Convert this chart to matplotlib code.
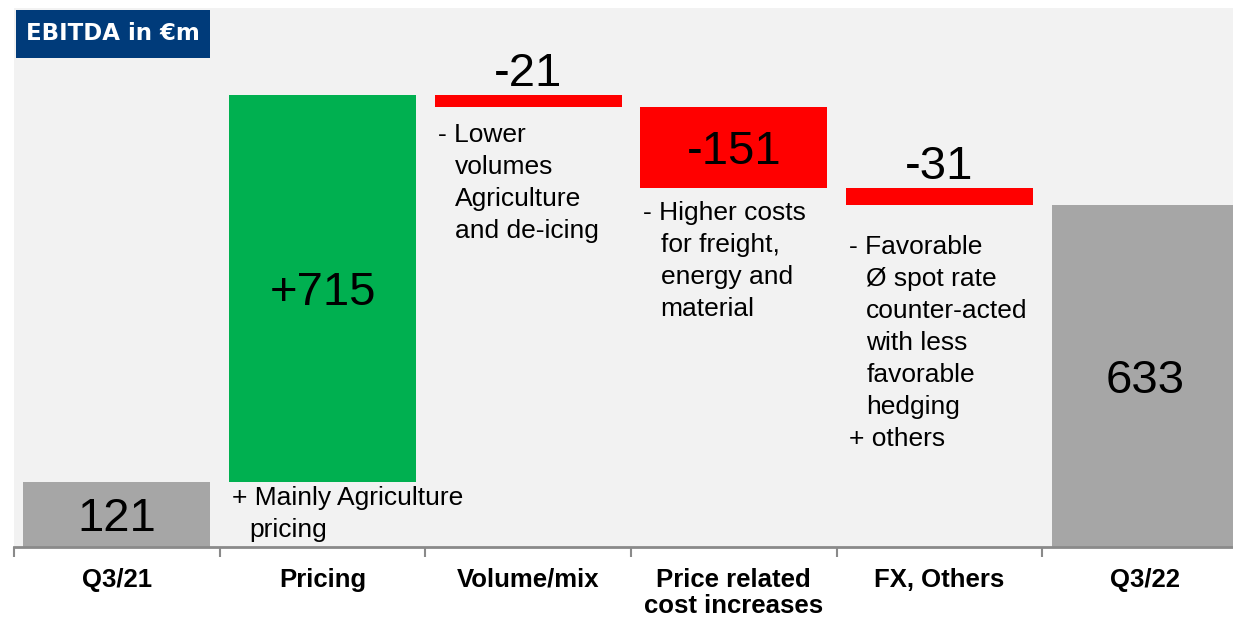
import matplotlib
matplotlib.use("Agg")
import matplotlib.pyplot as plt
from matplotlib.patches import Rectangle

# ---------------- data ----------------
categories = ["Q3/21", "Pricing", "Volume/mix", "Price related\ncost increases", "FX, Others", "Q3/22"]
values = [121, 715, -21, -151, -31, 633]
kinds = ["total", "delta", "delta", "delta", "delta", "total"]
value_labels = ["121", "+715", "-21", "-151", "-31", "633"]
notes = [
    None,
    ["+ Mainly Agriculture", "pricing"],
    ["- Lower", "volumes", "Agriculture", "and de-icing"],
    ["- Higher costs", "for freight,", "energy and", "material"],
    ["- Favorable", "Ø spot rate", "counter-acted", "with less", "favorable", "hedging", "+ others"],
    None,
]
title = "EBITDA in €m"

# ---------------- layout / style ----------------
note_y = [None, 90, 763, 619, 556, None]   # data y of first note line (centre)
C_TOTAL = "#A6A6A6"
C_POS = "#00B050"
C_NEG = "#FF0000"
C_PANEL = "#F2F2F2"
C_TITLE = "#003B7A"
BAR_W = 0.91

plt.rcParams["font.family"] = ["Liberation Sans", "DejaVu Sans"]

W, H = 1233, 619
fig = plt.figure(figsize=(W / 100, H / 100), dpi=100)
fig.patch.set_facecolor("white")
ax = fig.add_axes([14 / W, 72 / H, 1234 / W, 539 / H])
ax.set_facecolor(C_PANEL)
ax.set_xlim(-0.5, len(categories) - 0.5)
ax.set_ylim(0, 998)

running = 0
for i, (v, k, lab) in enumerate(zip(values, kinds, value_labels)):
    if k == "total":
        bottom, height, color = 0, v, C_TOTAL
        running = v
    else:
        if v >= 0:
            bottom, height, color = running, v, C_POS
        else:
            bottom, height, color = running + v, -v, C_NEG
        running += v
    ax.bar(i, height, bottom=bottom, width=BAR_W, color=color, edgecolor="none", zorder=2)
    if height >= 60:
        ax.annotate(lab, xy=(i, bottom + height / 2), xytext=(0, -3.5), textcoords="offset points",
                    ha="center", va="center", fontsize=34, color="black", zorder=3)
    else:
        ax.annotate(lab, xy=(i, bottom + height), xytext=(0, 15.5), textcoords="offset points",
                    ha="center", va="center", fontsize=34, color="black", zorder=3)

# notes
for i, lines in enumerate(notes):
    if not lines:
        continue
    x0 = i - 0.44
    for j, line in enumerate(lines):
        indent = 0 if line[:2] in ("+ ", "- ") else 12.4
        ax.annotate(line, xy=(x0, note_y[i]), xytext=(indent, -j * 23.1), textcoords="offset points",
                    ha="left", va="center", fontsize=19, color="black", zorder=3)

# axes styling
for s in ("top", "left", "right"):
    ax.spines[s].set_visible(False)
ax.spines["bottom"].set_color("#8A8A8A")
ax.spines["bottom"].set_linewidth(2)
ax.set_yticks([])
ax.set_xticks(range(len(categories)))
ax.set_xticklabels(categories, fontsize=18.5, fontweight="bold", linespacing=1.12)
ax.tick_params(axis="x", which="major", length=0, pad=15)
ax.set_xticks([i - 0.5 for i in range(len(categories) + 1)], minor=True)
ax.tick_params(axis="x", which="minor", length=7, width=1.5, color="#8A8A8A", direction="out")

# title box
fig.patches.append(Rectangle((16 / W, 1 - 58 / H), 194 / W, 48 / H, transform=fig.transFigure,
                             facecolor=C_TITLE, edgecolor="none", zorder=5))
fig.text(113 / W, 1 - 34 / H, title, ha="center", va="center", color="white", fontsize=16.5,
         fontweight="bold", family=["DejaVu Sans"], zorder=6)

fig.savefig("out.png", dpi=100)
